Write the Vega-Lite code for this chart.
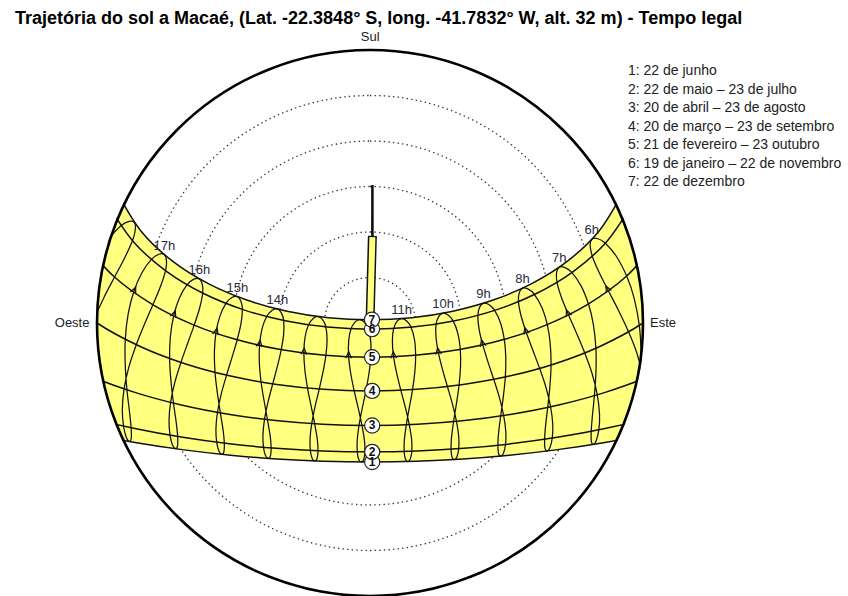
{
  "$schema": "https://vega.github.io/schema/vega-lite/v6.json",
  "width": 546,
  "height": 546,
  "autosize": {"type": "none"},
  "padding": {"left": 97, "top": 50, "right": 205, "bottom": 0},
  "config": {"font": "Liberation Sans", "view": {"stroke": null}},
  "title": {"text": "Trajetória do sol a Macaé, (Lat. -22.3848° S, long. -41.7832° W, alt. 32 m) - Tempo legal", "anchor": "start", "frame": "group", "dx": -82, "offset": 3, "fontSize": 18, "fontWeight": "bold", "color": "#000"},
  "projection": {"type": "azimuthalEquidistant", "rotate": [0, 22.3848, 0], "scale": 173.8, "translate": [273, 273], "reflectY": true},
  "datasets": {
    "alts": [{"alt": 15}, {"alt": 30}, {"alt": 45}, {"alt": 60}, {"alt": 75}],
    "compass": [
      {"t": "Sul", "lon": 179.9, "lat": -63.3},
      {"t": "Oeste", "lon": -97.59, "lat": 3.11},
      {"t": "Este", "lon": 96.1, "lat": 2.51}
    ],
    "band": [
      {"i": 1, "lon": 105, "lat": -23.44}, {"i": 2, "lon": 90, "lat": -23.44}, {"i": 3, "lon": 75, "lat": -23.44}, {"i": 4, "lon": 60, "lat": -23.44}, {"i": 5, "lon": 45, "lat": -23.44}, {"i": 6, "lon": 30, "lat": -23.44}, {"i": 7, "lon": 15, "lat": -23.44}, {"i": 8, "lon": 0, "lat": -23.44}, {"i": 9, "lon": -15, "lat": -23.44}, {"i": 10, "lon": -30, "lat": -23.44}, {"i": 11, "lon": -45, "lat": -23.44}, {"i": 12, "lon": -60, "lat": -23.44}, {"i": 13, "lon": -75, "lat": -23.44}, {"i": 14, "lon": -90, "lat": -23.44}, {"i": 15, "lon": -105, "lat": -23.44},
      {"i": 16, "lon": -105, "lat": -20.35}, {"i": 17, "lon": -105, "lat": -11.1}, {"i": 18, "lon": -105, "lat": 0}, {"i": 19, "lon": -105, "lat": 11.4}, {"i": 20, "lon": -105, "lat": 20.1},
      {"i": 21, "lon": -105, "lat": 23.44}, {"i": 22, "lon": -90, "lat": 23.44}, {"i": 23, "lon": -75, "lat": 23.44}, {"i": 24, "lon": -60, "lat": 23.44}, {"i": 25, "lon": -45, "lat": 23.44}, {"i": 26, "lon": -30, "lat": 23.44}, {"i": 27, "lon": -15, "lat": 23.44}, {"i": 28, "lon": 0, "lat": 23.44}, {"i": 29, "lon": 15, "lat": 23.44}, {"i": 30, "lon": 30, "lat": 23.44}, {"i": 31, "lon": 45, "lat": 23.44}, {"i": 32, "lon": 60, "lat": 23.44}, {"i": 33, "lon": 75, "lat": 23.44}, {"i": 34, "lon": 90, "lat": 23.44}, {"i": 35, "lon": 105, "lat": 23.44},
      {"i": 36, "lon": 105, "lat": 20.1}, {"i": 37, "lon": 105, "lat": 11.4}, {"i": 38, "lon": 105, "lat": 0}, {"i": 39, "lon": 105, "lat": -11.1}, {"i": 40, "lon": 105, "lat": -20.35}
    ],
    "dates": [
      {"d": 1, "i": 1, "lon": 105, "lat": 23.44}, {"d": 1, "i": 2, "lon": 90, "lat": 23.44}, {"d": 1, "i": 3, "lon": 75, "lat": 23.44}, {"d": 1, "i": 4, "lon": 60, "lat": 23.44}, {"d": 1, "i": 5, "lon": 45, "lat": 23.44}, {"d": 1, "i": 6, "lon": 30, "lat": 23.44}, {"d": 1, "i": 7, "lon": 15, "lat": 23.44}, {"d": 1, "i": 8, "lon": 0, "lat": 23.44}, {"d": 1, "i": 9, "lon": -15, "lat": 23.44}, {"d": 1, "i": 10, "lon": -30, "lat": 23.44}, {"d": 1, "i": 11, "lon": -45, "lat": 23.44}, {"d": 1, "i": 12, "lon": -60, "lat": 23.44}, {"d": 1, "i": 13, "lon": -75, "lat": 23.44}, {"d": 1, "i": 14, "lon": -90, "lat": 23.44}, {"d": 1, "i": 15, "lon": -105, "lat": 23.44},
      {"d": 2, "i": 1, "lon": 105, "lat": 20.1}, {"d": 2, "i": 2, "lon": 90, "lat": 20.1}, {"d": 2, "i": 3, "lon": 75, "lat": 20.1}, {"d": 2, "i": 4, "lon": 60, "lat": 20.1}, {"d": 2, "i": 5, "lon": 45, "lat": 20.1}, {"d": 2, "i": 6, "lon": 30, "lat": 20.1}, {"d": 2, "i": 7, "lon": 15, "lat": 20.1}, {"d": 2, "i": 8, "lon": 0, "lat": 20.1}, {"d": 2, "i": 9, "lon": -15, "lat": 20.1}, {"d": 2, "i": 10, "lon": -30, "lat": 20.1}, {"d": 2, "i": 11, "lon": -45, "lat": 20.1}, {"d": 2, "i": 12, "lon": -60, "lat": 20.1}, {"d": 2, "i": 13, "lon": -75, "lat": 20.1}, {"d": 2, "i": 14, "lon": -90, "lat": 20.1}, {"d": 2, "i": 15, "lon": -105, "lat": 20.1},
      {"d": 3, "i": 1, "lon": 105, "lat": 11.4}, {"d": 3, "i": 2, "lon": 90, "lat": 11.4}, {"d": 3, "i": 3, "lon": 75, "lat": 11.4}, {"d": 3, "i": 4, "lon": 60, "lat": 11.4}, {"d": 3, "i": 5, "lon": 45, "lat": 11.4}, {"d": 3, "i": 6, "lon": 30, "lat": 11.4}, {"d": 3, "i": 7, "lon": 15, "lat": 11.4}, {"d": 3, "i": 8, "lon": 0, "lat": 11.4}, {"d": 3, "i": 9, "lon": -15, "lat": 11.4}, {"d": 3, "i": 10, "lon": -30, "lat": 11.4}, {"d": 3, "i": 11, "lon": -45, "lat": 11.4}, {"d": 3, "i": 12, "lon": -60, "lat": 11.4}, {"d": 3, "i": 13, "lon": -75, "lat": 11.4}, {"d": 3, "i": 14, "lon": -90, "lat": 11.4}, {"d": 3, "i": 15, "lon": -105, "lat": 11.4},
      {"d": 4, "i": 1, "lon": 105, "lat": 0}, {"d": 4, "i": 2, "lon": 90, "lat": 0}, {"d": 4, "i": 3, "lon": 75, "lat": 0}, {"d": 4, "i": 4, "lon": 60, "lat": 0}, {"d": 4, "i": 5, "lon": 45, "lat": 0}, {"d": 4, "i": 6, "lon": 30, "lat": 0}, {"d": 4, "i": 7, "lon": 15, "lat": 0}, {"d": 4, "i": 8, "lon": 0, "lat": 0}, {"d": 4, "i": 9, "lon": -15, "lat": 0}, {"d": 4, "i": 10, "lon": -30, "lat": 0}, {"d": 4, "i": 11, "lon": -45, "lat": 0}, {"d": 4, "i": 12, "lon": -60, "lat": 0}, {"d": 4, "i": 13, "lon": -75, "lat": 0}, {"d": 4, "i": 14, "lon": -90, "lat": 0}, {"d": 4, "i": 15, "lon": -105, "lat": 0},
      {"d": 5, "i": 1, "lon": 105, "lat": -11.1}, {"d": 5, "i": 2, "lon": 90, "lat": -11.1}, {"d": 5, "i": 3, "lon": 75, "lat": -11.1}, {"d": 5, "i": 4, "lon": 60, "lat": -11.1}, {"d": 5, "i": 5, "lon": 45, "lat": -11.1}, {"d": 5, "i": 6, "lon": 30, "lat": -11.1}, {"d": 5, "i": 7, "lon": 15, "lat": -11.1}, {"d": 5, "i": 8, "lon": 0, "lat": -11.1}, {"d": 5, "i": 9, "lon": -15, "lat": -11.1}, {"d": 5, "i": 10, "lon": -30, "lat": -11.1}, {"d": 5, "i": 11, "lon": -45, "lat": -11.1}, {"d": 5, "i": 12, "lon": -60, "lat": -11.1}, {"d": 5, "i": 13, "lon": -75, "lat": -11.1}, {"d": 5, "i": 14, "lon": -90, "lat": -11.1}, {"d": 5, "i": 15, "lon": -105, "lat": -11.1},
      {"d": 6, "i": 1, "lon": 105, "lat": -20.35}, {"d": 6, "i": 2, "lon": 90, "lat": -20.35}, {"d": 6, "i": 3, "lon": 75, "lat": -20.35}, {"d": 6, "i": 4, "lon": 60, "lat": -20.35}, {"d": 6, "i": 5, "lon": 45, "lat": -20.35}, {"d": 6, "i": 6, "lon": 30, "lat": -20.35}, {"d": 6, "i": 7, "lon": 15, "lat": -20.35}, {"d": 6, "i": 8, "lon": 0, "lat": -20.35}, {"d": 6, "i": 9, "lon": -15, "lat": -20.35}, {"d": 6, "i": 10, "lon": -30, "lat": -20.35}, {"d": 6, "i": 11, "lon": -45, "lat": -20.35}, {"d": 6, "i": 12, "lon": -60, "lat": -20.35}, {"d": 6, "i": 13, "lon": -75, "lat": -20.35}, {"d": 6, "i": 14, "lon": -90, "lat": -20.35}, {"d": 6, "i": 15, "lon": -105, "lat": -20.35},
      {"d": 7, "i": 1, "lon": 105, "lat": -23.44}, {"d": 7, "i": 2, "lon": 90, "lat": -23.44}, {"d": 7, "i": 3, "lon": 75, "lat": -23.44}, {"d": 7, "i": 4, "lon": 60, "lat": -23.44}, {"d": 7, "i": 5, "lon": 45, "lat": -23.44}, {"d": 7, "i": 6, "lon": 30, "lat": -23.44}, {"d": 7, "i": 7, "lon": 15, "lat": -23.44}, {"d": 7, "i": 8, "lon": 0, "lat": -23.44}, {"d": 7, "i": 9, "lon": -15, "lat": -23.44}, {"d": 7, "i": 10, "lon": -30, "lat": -23.44}, {"d": 7, "i": 11, "lon": -45, "lat": -23.44}, {"d": 7, "i": 12, "lon": -60, "lat": -23.44}, {"d": 7, "i": 13, "lon": -75, "lat": -23.44}, {"d": 7, "i": 14, "lon": -90, "lat": -23.44}, {"d": 7, "i": 15, "lon": -105, "lat": -23.44}
    ],
    "loops": [
      {"i": 1, "lat": -23.44, "h6": 86.38, "h7": 71.38, "h8": 56.38, "h9": 41.38, "h10": 26.38, "h11": 11.38, "h12": -3.62, "h13": -18.62, "h14": -33.62, "h15": -48.62, "h16": -63.62, "h17": -78.62, "h18": -93.62},
      {"i": 2, "lat": -22.6, "h6": 88.03, "h7": 73.03, "h8": 58.03, "h9": 43.03, "h10": 28.03, "h11": 13.03, "h12": -1.97, "h13": -16.97, "h14": -31.97, "h15": -46.97, "h16": -61.97, "h17": -76.97, "h18": -91.97},
      {"i": 3, "lat": -20.5, "h6": 89.4, "h7": 74.4, "h8": 59.4, "h9": 44.4, "h10": 29.4, "h11": 14.4, "h12": -0.6, "h13": -15.6, "h14": -30.6, "h15": -45.6, "h16": -60.6, "h17": -75.6, "h18": -90.6},
      {"i": 4, "lat": -16.1, "h6": 90.28, "h7": 75.28, "h8": 60.28, "h9": 45.28, "h10": 30.28, "h11": 15.28, "h12": 0.28, "h13": -14.72, "h14": -29.72, "h15": -44.72, "h16": -59.72, "h17": -74.72, "h18": -89.72},
      {"i": 5, "lat": -10.8, "h6": 90.23, "h7": 75.23, "h8": 60.23, "h9": 45.23, "h10": 30.23, "h11": 15.23, "h12": 0.23, "h13": -14.77, "h14": -29.77, "h15": -44.77, "h16": -59.77, "h17": -74.77, "h18": -89.77},
      {"i": 6, "lat": -5.9, "h6": 89.68, "h7": 74.68, "h8": 59.68, "h9": 44.68, "h10": 29.68, "h11": 14.68, "h12": -0.32, "h13": -15.32, "h14": -30.32, "h15": -45.32, "h16": -60.32, "h17": -75.32, "h18": -90.32},
      {"i": 7, "lat": 0, "h6": 88.68, "h7": 73.68, "h8": 58.68, "h9": 43.68, "h10": 28.68, "h11": 13.68, "h12": -1.32, "h13": -16.32, "h14": -31.32, "h15": -46.32, "h16": -61.32, "h17": -76.32, "h18": -91.32},
      {"i": 8, "lat": 6.0, "h6": 87.48, "h7": 72.48, "h8": 57.48, "h9": 42.48, "h10": 27.48, "h11": 12.48, "h12": -2.52, "h13": -17.52, "h14": -32.52, "h15": -47.52, "h16": -62.52, "h17": -77.52, "h18": -92.52},
      {"i": 9, "lat": 11.5, "h6": 86.5, "h7": 71.5, "h8": 56.5, "h9": 41.5, "h10": 26.5, "h11": 11.5, "h12": -3.5, "h13": -18.5, "h14": -33.5, "h15": -48.5, "h16": -63.5, "h17": -78.5, "h18": -93.5},
      {"i": 10, "lat": 16.4, "h6": 85.93, "h7": 70.93, "h8": 55.93, "h9": 40.93, "h10": 25.93, "h11": 10.93, "h12": -4.07, "h13": -19.07, "h14": -34.07, "h15": -49.07, "h16": -64.07, "h17": -79.07, "h18": -94.07},
      {"i": 11, "lat": 20.2, "h6": 85.93, "h7": 70.93, "h8": 55.93, "h9": 40.93, "h10": 25.93, "h11": 10.93, "h12": -4.07, "h13": -19.07, "h14": -34.07, "h15": -49.07, "h16": -64.07, "h17": -79.07, "h18": -94.07},
      {"i": 12, "lat": 22.7, "h6": 86.4, "h7": 71.4, "h8": 56.4, "h9": 41.4, "h10": 26.4, "h11": 11.4, "h12": -3.6, "h13": -18.6, "h14": -33.6, "h15": -48.6, "h16": -63.6, "h17": -78.6, "h18": -93.6},
      {"i": 13, "lat": 23.44, "h6": 87.23, "h7": 72.23, "h8": 57.23, "h9": 42.23, "h10": 27.23, "h11": 12.23, "h12": -2.77, "h13": -17.77, "h14": -32.77, "h15": -47.77, "h16": -62.77, "h17": -77.77, "h18": -92.77},
      {"i": 14, "lat": 22.6, "h6": 87.98, "h7": 72.98, "h8": 57.98, "h9": 42.98, "h10": 27.98, "h11": 12.98, "h12": -2.02, "h13": -17.02, "h14": -32.02, "h15": -47.02, "h16": -62.02, "h17": -77.02, "h18": -92.02},
      {"i": 15, "lat": 20.0, "h6": 88.38, "h7": 73.38, "h8": 58.38, "h9": 43.38, "h10": 28.38, "h11": 13.38, "h12": -1.62, "h13": -16.62, "h14": -31.62, "h15": -46.62, "h16": -61.62, "h17": -76.62, "h18": -91.62},
      {"i": 16, "lat": 16.3, "h6": 88.23, "h7": 73.23, "h8": 58.23, "h9": 43.23, "h10": 28.23, "h11": 13.23, "h12": -1.77, "h13": -16.77, "h14": -31.77, "h15": -46.77, "h16": -61.77, "h17": -76.77, "h18": -91.77},
      {"i": 17, "lat": 11.3, "h6": 87.43, "h7": 72.43, "h8": 57.43, "h9": 42.43, "h10": 27.43, "h11": 12.43, "h12": -2.57, "h13": -17.57, "h14": -32.57, "h15": -47.57, "h16": -62.57, "h17": -77.57, "h18": -92.57},
      {"i": 18, "lat": 5.6, "h6": 86.23, "h7": 71.23, "h8": 56.23, "h9": 41.23, "h10": 26.23, "h11": 11.23, "h12": -3.77, "h13": -18.77, "h14": -33.77, "h15": -48.77, "h16": -63.77, "h17": -78.77, "h18": -93.77},
      {"i": 19, "lat": 0, "h6": 84.9, "h7": 69.9, "h8": 54.9, "h9": 39.9, "h10": 24.9, "h11": 9.9, "h12": -5.1, "h13": -20.1, "h14": -35.1, "h15": -50.1, "h16": -65.1, "h17": -80.1, "h18": -95.1},
      {"i": 20, "lat": -5.8, "h6": 83.68, "h7": 68.68, "h8": 53.68, "h9": 38.68, "h10": 23.68, "h11": 8.68, "h12": -6.32, "h13": -21.32, "h14": -36.32, "h15": -51.32, "h16": -66.32, "h17": -81.32, "h18": -96.32},
      {"i": 21, "lat": -11.4, "h6": 82.85, "h7": 67.85, "h8": 52.85, "h9": 37.85, "h10": 22.85, "h11": 7.85, "h12": -7.15, "h13": -22.15, "h14": -37.15, "h15": -52.15, "h16": -67.15, "h17": -82.15, "h18": -97.15},
      {"i": 22, "lat": -16.3, "h6": 82.68, "h7": 67.68, "h8": 52.68, "h9": 37.68, "h10": 22.68, "h11": 7.68, "h12": -7.32, "h13": -22.32, "h14": -37.32, "h15": -52.32, "h16": -67.32, "h17": -82.32, "h18": -97.32},
      {"i": 23, "lat": -20.2, "h6": 83.28, "h7": 68.28, "h8": 53.28, "h9": 38.28, "h10": 23.28, "h11": 8.28, "h12": -6.72, "h13": -21.72, "h14": -36.72, "h15": -51.72, "h16": -66.72, "h17": -81.72, "h18": -96.72},
      {"i": 24, "lat": -22.6, "h6": 84.63, "h7": 69.63, "h8": 54.63, "h9": 39.63, "h10": 24.63, "h11": 9.63, "h12": -5.37, "h13": -20.37, "h14": -35.37, "h15": -50.37, "h16": -65.37, "h17": -80.37, "h18": -95.37}
    ],
    "arrows": [
      {"h": 6, "lon": 82.85, "lat": -11.4, "ang": -27}, {"h": 7, "lon": 67.85, "lat": -11.4, "ang": -22}, {"h": 8, "lon": 52.85, "lat": -11.4, "ang": -17}, {"h": 9, "lon": 37.85, "lat": -11.4, "ang": -13}, {"h": 10, "lon": 22.85, "lat": -11.4, "ang": -8}, {"h": 11, "lon": 7.85, "lat": -11.4, "ang": -4},
      {"h": 12, "lon": -7.15, "lat": -11.4, "ang": 1}, {"h": 13, "lon": -22.15, "lat": -11.4, "ang": 5}, {"h": 14, "lon": -37.15, "lat": -11.4, "ang": 9}, {"h": 15, "lon": -52.15, "lat": -11.4, "ang": 14}, {"h": 16, "lon": -67.15, "lat": -11.4, "ang": 19}, {"h": 17, "lon": -82.15, "lat": -11.4, "ang": 24}
    ],
    "hourlabels": [
      {"lab": "6h", "lon": 86.38, "lat": -23.44}, {"lab": "7h", "lon": 71.38, "lat": -23.44}, {"lab": "8h", "lon": 56.38, "lat": -23.44}, {"lab": "9h", "lon": 41.38, "lat": -23.44}, {"lab": "10h", "lon": 26.38, "lat": -23.44}, {"lab": "11h", "lon": 11.38, "lat": -23.44},
      {"lab": "14h", "lon": -33.62, "lat": -23.44}, {"lab": "15h", "lon": -48.62, "lat": -23.44}, {"lab": "16h", "lon": -63.62, "lat": -23.44}, {"lab": "17h", "lon": -78.62, "lat": -23.44}
    ],
    "markers": [
      {"n": "1", "leg": "1: 22 de junho", "lon": 0.7, "lat": 23.44},
      {"n": "2", "leg": "2: 22 de maio – 23 de julho", "lon": 0.7, "lat": 20.1},
      {"n": "3", "leg": "3: 20 de abril – 23 de agosto", "lon": 0.7, "lat": 11.4},
      {"n": "4", "leg": "4: 20 de março – 23 de setembro", "lon": 0.7, "lat": 0},
      {"n": "5", "leg": "5: 21 de fevereiro – 23 outubro", "lon": 0.7, "lat": -11.1},
      {"n": "6", "leg": "6: 19 de janeiro – 22 de novembro", "lon": 0.7, "lat": -20.35},
      {"n": "7", "leg": "7: 22 de dezembro", "lon": 0.7, "lat": -23.44}
    ]
  },
  "layer": [
    {
      "data": {"name": "alts"},
      "mark": {"type": "arc", "theta": 0, "theta2": 6.2832, "filled": false, "stroke": "#333", "strokeWidth": 1.3, "strokeDash": [1.4, 3.2]},
      "encoding": {"radius": {"field": "alt", "type": "quantitative", "stack": null, "scale": {"type": "linear", "domain": [90, 0], "range": [0, 273]}}}
    },
    {
      "data": {"name": "band"},
      "mark": {"type": "line", "interpolate": "cardinal-closed", "filled": true, "fill": "#ffff80", "strokeOpacity": 0},
      "encoding": {"longitude": {"field": "lon", "type": "quantitative"}, "latitude": {"field": "lat", "type": "quantitative"}, "order": {"field": "i", "type": "quantitative"}}
    },
    {
      "data": {"values": [{"i": 1, "lon": 0, "lat": -22.3848}, {"i": 2, "lon": 1.2, "lat": -51.1}]},
      "mark": {"type": "line", "stroke": "#111", "strokeWidth": 9},
      "encoding": {"longitude": {"field": "lon", "type": "quantitative"}, "latitude": {"field": "lat", "type": "quantitative"}, "order": {"field": "i", "type": "quantitative"}}
    },
    {
      "data": {"values": [{"i": 1, "lon": 0, "lat": -22.3848}, {"i": 2, "lon": 1.2, "lat": -50.7}]},
      "mark": {"type": "line", "stroke": "#ffff80", "strokeWidth": 6},
      "encoding": {"longitude": {"field": "lon", "type": "quantitative"}, "latitude": {"field": "lat", "type": "quantitative"}, "order": {"field": "i", "type": "quantitative"}}
    },
    {
      "data": {"values": [{"i": 1, "lon": 1.2, "lat": -51.1}, {"i": 2, "lon": 1.9, "lat": -67.9}]},
      "mark": {"type": "line", "stroke": "#111", "strokeWidth": 2.6},
      "encoding": {"longitude": {"field": "lon", "type": "quantitative"}, "latitude": {"field": "lat", "type": "quantitative"}, "order": {"field": "i", "type": "quantitative"}}
    },
    {
      "data": {"name": "dates"},
      "mark": {"type": "line", "interpolate": "cardinal", "stroke": "#111", "strokeWidth": 1.5},
      "encoding": {"longitude": {"field": "lon", "type": "quantitative"}, "latitude": {"field": "lat", "type": "quantitative"}, "detail": {"field": "d", "type": "nominal"}, "order": {"field": "i", "type": "quantitative"}}
    },
    {
      "data": {"name": "loops"},
      "transform": [{"fold": ["h6", "h7", "h8", "h9", "h10", "h11", "h12", "h13", "h14", "h15", "h16", "h17", "h18"]}],
      "mark": {"type": "line", "interpolate": "cardinal-closed", "stroke": "#111", "strokeWidth": 1.25},
      "encoding": {"longitude": {"field": "value", "type": "quantitative"}, "latitude": {"field": "lat", "type": "quantitative"}, "detail": {"field": "key", "type": "nominal"}, "order": {"field": "i", "type": "quantitative"}}
    },
    {
      "data": {"name": "arrows"},
      "mark": {"type": "point", "shape": "M-0.6,0.5L0,-0.9L0.6,0.5", "filled": false, "stroke": "#111", "strokeWidth": 1.2, "size": 90, "opacity": 1},
      "encoding": {"longitude": {"field": "lon", "type": "quantitative"}, "latitude": {"field": "lat", "type": "quantitative"}, "angle": {"field": "ang", "type": "quantitative", "scale": null}}
    },
    {
      "data": {"values": [{"k": "mask"}]},
      "mark": {"type": "arc", "theta": 0.9, "theta2": 5.3832, "radius": 360, "radius2": 274.3, "filled": true, "fill": "#ffffff", "strokeOpacity": 0},
      "encoding": {}
    },
    {
      "data": {"values": [{"alt": 0}]},
      "mark": {"type": "arc", "theta": 0, "theta2": 6.2832, "filled": false, "stroke": "#000", "strokeWidth": 2.6},
      "encoding": {"radius": {"field": "alt", "type": "quantitative", "stack": null, "scale": {"type": "linear", "domain": [90, 0], "range": [0, 273]}}}
    },
    {
      "data": {"name": "markers"},
      "mark": {"type": "point", "shape": "circle", "filled": true, "size": 230, "stroke": "#222", "strokeWidth": 1.2, "opacity": 1},
      "encoding": {
        "longitude": {"field": "lon", "type": "quantitative"},
        "latitude": {"field": "lat", "type": "quantitative"},
        "fill": {"field": "leg", "type": "nominal", "scale": {"range": ["#ffffff"]},
          "legend": {"orient": "none", "legendX": 517, "legendY": 14, "title": null, "symbolSize": 0, "symbolOpacity": 0, "symbolStrokeWidth": 0, "labelOffset": 0, "labelFont": "Liberation Sans", "labelFontSize": 14, "labelColor": "#222", "rowPadding": 4.5, "labelLimit": 400}}
      }
    },
    {
      "data": {"name": "markers"},
      "mark": {"type": "text", "fontSize": 12, "fontWeight": "bold", "color": "#111", "baseline": "middle", "align": "center"},
      "encoding": {"longitude": {"field": "lon", "type": "quantitative"}, "latitude": {"field": "lat", "type": "quantitative"}, "text": {"field": "n"}}
    },
    {
      "data": {"name": "hourlabels"},
      "mark": {"type": "text", "fontSize": 13, "color": "#2a2a3a", "baseline": "bottom", "align": "center", "dy": -2},
      "encoding": {"longitude": {"field": "lon", "type": "quantitative"}, "latitude": {"field": "lat", "type": "quantitative"}, "text": {"field": "lab"}}
    },
    {
      "data": {"name": "compass"},
      "mark": {"type": "text", "fontSize": 13, "color": "#222", "baseline": "middle", "align": "center", "clip": false},
      "encoding": {"longitude": {"field": "lon", "type": "quantitative"}, "latitude": {"field": "lat", "type": "quantitative"}, "text": {"field": "t"}}
    }
  ]
}
